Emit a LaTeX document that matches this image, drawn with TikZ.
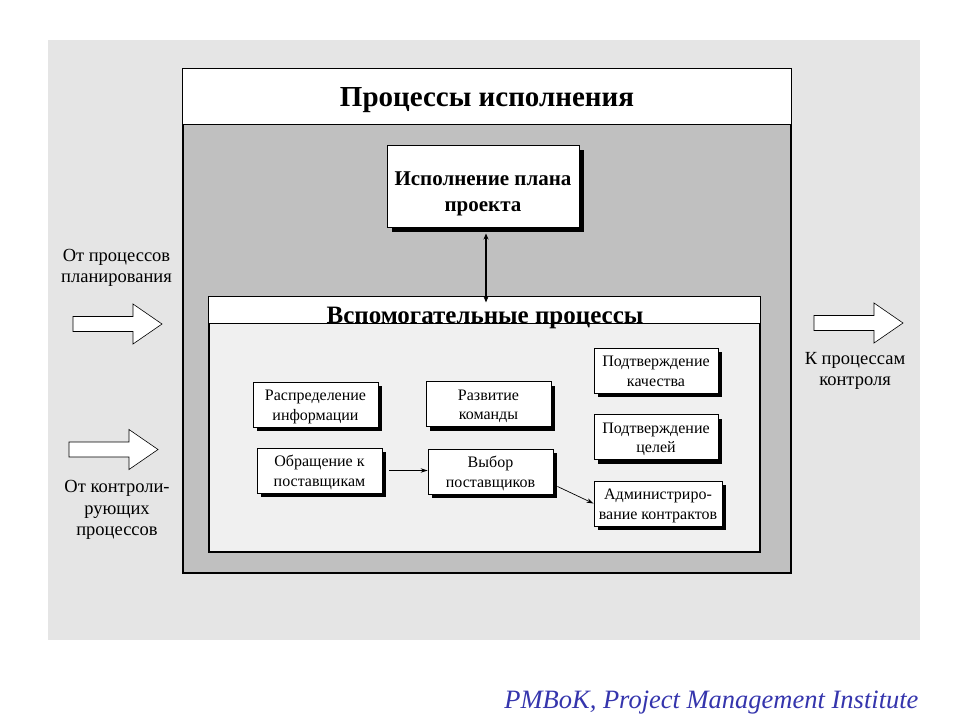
\documentclass[tikz,border=0pt]{standalone}
\usepackage{fontspec}
\setmainfont{Liberation Serif}
\usetikzlibrary{positioning, calc, shadows, arrows.meta}
\definecolor{panel_grey}{HTML}{E5E5E5}
\definecolor{group_grey}{HTML}{C0C0C0}
\definecolor{inner_grey}{HTML}{F0F0F0}
\definecolor{pmbok_blue}{HTML}{3535AD}
\newcommand{\lowtext}[2]{\raisebox{-#1}[\height][\depth]{\begin{tabular}{@{}c@{}}#2\end{tabular}}}
\tikzstyle{big_node} = [
    rectangle, 
    draw=black, 
    fill=white, 
    line width=1pt, 
    font=\fontsize{21}{26}\selectfont\bfseries, 
    align=center, 
    minimum width=192pt, 
    minimum height=82pt, 
    drop shadow={shadow xshift=5pt, shadow yshift=-5pt, fill=black, opacity=1}
]
\tikzstyle{proc_node} = [
    rectangle, 
    draw=black, 
    fill=white, 
    line width=0.9pt, 
    font=\fontsize{16}{19.5}\selectfont, 
    align=center, 
    inner sep=1pt, % keeps the two lines inside
    minimum width=125pt, 
    minimum height=45pt, 
    drop shadow={shadow xshift=4pt, shadow yshift=-4pt, fill=black, opacity=1}
]
\tikzstyle{group_box} = [
    rectangle, 
    draw=black, 
    line width=1.2pt, 
    inner sep=0pt
]
\tikzstyle{side_text} = [
    font=\fontsize{18.5}{21.5}\selectfont, 
    align=center
]
\tikzstyle{flow} = [-{Stealth[length=7pt,width=4.5pt]}, line width=0.7pt]
\tikzstyle{both_ways} = [{Stealth[length=6pt,width=5pt]}-{Stealth[length=6pt,width=5pt]}, line width=1.8pt]
\tikzstyle{block_arrow} = [draw=black, fill=white, line width=0.6pt]

\begin{document}
\begin{tikzpicture}[x=1pt, y=-1pt]
\fill[white] (0,0) rectangle (960,720);
\useasboundingbox (0,0) rectangle (960,720);
\fill[panel_grey] (48,40) rectangle (920,640);

% execution processes
\node [group_box, fill=group_grey, minimum width=608pt, minimum height=504pt] (exec_group) at (487,321) {};
\draw [fill=white, line width=1.2pt] (exec_group.north west) rectangle ($(exec_group.north east)+(0,56)$);
\node [font=\fontsize{29}{29}\selectfont\bfseries, anchor=base] (exec_title) at (487,106) {Процессы исполнения};

\node [big_node] (plan_exec) at (483,186) {\lowtext{7pt}{Исполнение плана\\проекта}};

% facilitating processes
\node [group_box, fill=inner_grey, minimum width=551pt, minimum height=255pt] (aux_group) at (484.5,424.5) {};
\fill [white] (aux_group.north west) rectangle ($(aux_group.north east)+(0,27)$);
\node [font=\fontsize{25}{25}\selectfont\bfseries, anchor=base] (aux_title) at (485,323.5) {Вспомогательные процессы};
\draw [line width=1.2pt] ($(aux_group.north west)+(0,27)$) -- ($(aux_group.north east)+(0,27)$);
\draw [line width=1.2pt] (aux_group.north west) rectangle (aux_group.south east);

\draw [both_ways] ([xshift=3pt,yshift=-6pt]plan_exec.south) -- ([xshift=3pt,yshift=-6pt]plan_exec.south |- aux_group.north);

\node [proc_node] (info_dist) at (315.5,404.5) {\lowtext{2pt}{Распределение\\информации}};
\node [proc_node] (team_dev) at (488.5,404) {\lowtext{2pt}{Развитие\\команды}};
\node [proc_node, minimum width=124pt] (quality) at (656,370.5) {\lowtext{2pt}{Подтверждение\\качества}};
\node [proc_node, minimum width=124pt] (goals) at (656,437) {\lowtext{2pt}{Подтверждение\\целей}};
\node [proc_node] (supplier_req) at (319.5,470.5) {\lowtext{2pt}{Обращение к\\поставщикам}};
\node [proc_node] (supplier_sel) at (490.5,471.5) {\lowtext{2pt}{Выбор\\поставщиков}};
\node [proc_node, minimum width=128pt] (contract_adm) at (658,503.5) {\lowtext{2pt}{Администриро-\\вание контрактов}};

\draw [flow, shorten <=7pt] (supplier_req.east) -- (supplier_req.east -| supplier_sel.west);
\draw [flow] ($(supplier_sel.south east)+(4,-8)$) -- (contract_adm.west);

% inputs and outputs
\foreach \sx/\sy in {73/324, 69/449.5, 814/323}
    \draw [block_arrow, shift={(\sx,\sy)}] (0,-7.5) -- (60,-7.5) -- (60,-20) -- (89,0) -- (60,20) -- (60,7.5) -- (0,7.5) -- cycle;

\node [side_text] (from_plan) at (116.5,268) {От процессов\\планирования};
\node [side_text] (from_ctrl) at (117,510) {От контроли-\\рующих\\процессов};
\node [side_text] (to_ctrl) at (855,371) {К процессам\\контроля};

\node [font=\fontsize{26.5}{26.5}\selectfont\itshape, text=pmbok_blue, anchor=base east] (source) at (922,708) {PMBoK, Project Management Institute};
\end{tikzpicture}
\end{document}
